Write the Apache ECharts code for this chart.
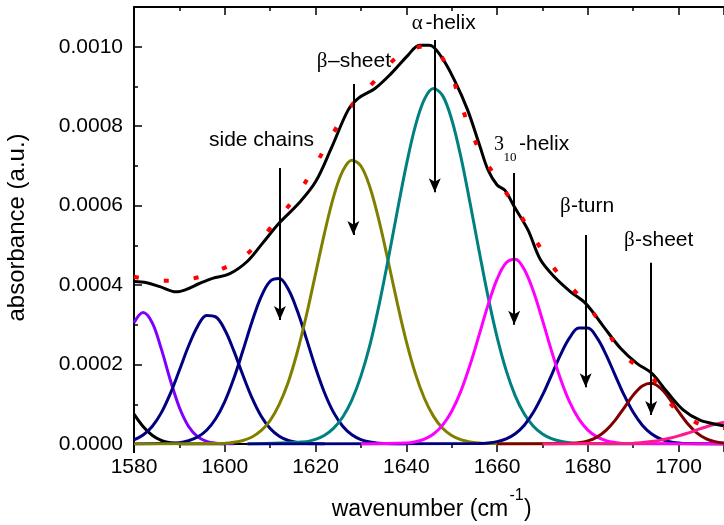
<!DOCTYPE html>
<html><head><meta charset="utf-8">
<script src="https://cdn.jsdelivr.net/npm/echarts@6/dist/echarts.min.js"></script>
<style>html,body{margin:0;padding:0;background:#fff}#c{width:724px;height:525px}</style>
</head><body><div id="c"></div>
<script>
// all absorbance values below are in units of 1e-6
const U = 1e-6;
const xTicks = [1580, 1600, 1620, 1640, 1660, 1680, 1700];
const yTicks = ['0.0000','0.0002','0.0004','0.0006','0.0008','0.0010'];

const leftX = [1580,1582,1584,1586,1588,1590,1592,1600];
const leftY = [75,44,22,9,3,0.5,0,0];

const purpleX = [1580,1582,1584,1586,1588,1590,1592,1594,1596,1598,1600,1602];
const purpleY = [305.5,331,305.5,240,161,92,44.8,18.6,6.6,2.0,0.5,0];

const navy1X = [1580,1582,1584,1586,1588,1590,1592,1594,1596,1598,1600,1602,1604,1606,1608,1610,1612,1614,1616,1618,1620,1622];
const navy1Y = [10.4,22.5,44.1,78.4,126.8,185.5,246,296,323.5,320,287.7,234.4,173,116,70.5,38.8,19.4,8.8,3.6,1.3,0.4,0];

const sideX = [1580,1590,1592,1594,1596,1598,1600,1602,1604,1606,1608,1610,1612,1614,1616,1618,1620,1622,1624,1626,1628,1630,1632,1634,1636,1640];
const sideY = [0,3.4,8.1,17.5,34.7,63.4,106.7,165.3,235.2,307.8,370.3,409.5,416.4,389.4,334.7,264.6,192.1,128.5,78.9,44.6,23.1,11.0,4.8,2.0,0.7,0];

const oliveX = [1580,1600,1602,1604,1606,1608,1610,1612,1614,1616,1618,1620,1622,1624,1626,1628,1630,1632,1634,1636,1638,1640,1642,1644,1646,1648,1650,1652,1654,1656,1658,1710];
const oliveY = [0,1.9,4.2,8.9,17.7,33.4,59.2,99.6,156.2,232.2,324.8,428.3,532.1,623.2,687.4,714.5,699.8,645.8,561.6,460.5,355.2,258.3,177.2,114.5,69.6,39.8,21.5,10.9,5.3,2.4,1.0,0];

const tealX = [1605,1618,1620,1622,1624,1626,1628,1630,1632,1634,1636,1638,1640,1642,1644,1646,1648,1650,1652,1654,1656,1658,1660,1662,1664,1666,1668,1670,1672,1674,1676,1678,1690];
const tealY = [0,5.9,11.7,22.1,39.9,68.0,110.6,170.8,250.1,350.1,464.2,585.3,702.1,800.8,868.1,894.7,876.9,816.9,723.9,609.4,488.2,371.6,268.9,185.2,121.1,75.4,44.6,25.1,13.4,6.8,3.3,1.5,0];

const turnX = [1605,1656,1658,1660,1662,1664,1666,1668,1670,1672,1674,1676,1678,1680,1682,1684,1686,1688,1690,1692,1694,1696,1698,1700,1702,1710];
const turnY = [0,1.0,2.5,6.0,12.9,25.9,47.4,79.7,122.8,173.6,225.2,267.6,291.8,291.8,267.6,225.2,173.6,122.8,79.7,47.4,25.9,12.9,6.0,2.5,1.0,0];

const helix310X = [1630,1640,1642,1644,1646,1648,1650,1652,1654,1656,1658,1660,1662,1664,1666,1668,1670,1672,1674,1676,1678,1680,1682,1684,1686,1688,1710];
const helix310Y = [0,2.4,5.7,12.4,25.3,47.4,82.3,132.4,197.5,272.7,349.5,414.8,456.1,464.9,439.1,384.4,311.8,234.3,163.2,105.4,63.1,35.0,17.9,8.5,3.8,1.5,0];

const maroonX = [1660,1676,1678,1680,1682,1684,1686,1688,1690,1692,1694,1696,1698,1700,1702,1704,1706,1708,1710];
const maroonY = [0,1.0,3.0,7.7,17.2,34.2,59.5,91.1,123.0,146.1,152.8,140.6,114.0,81.2,51.0,28.2,13.7,5.9,2.2];

const pinkX = [1670,1690,1692,1694,1696,1698,1700,1702,1704,1706,1708,1710];
const pinkY = [0,2.2,3.8,6.3,9.7,14.5,20.4,27.5,35.2,42.9,49.7,54.9];

const fitX = [1580,1582.8,1585.7,1589.3,1591.5,1594.4,1597.3,1601.0,1605.0,1608.3,1611.9,1616.3,1620.0,1623.6,1627.2,1629.4,1633.1,1636.7,1640.4,1642.9,1645.1,1647.7,1650.6,1653.5,1656.2,1658.0,1660.0,1661.7,1663.8,1666.8,1669.5,1672.6,1676.2,1679.5,1683.5,1687.2,1690.8,1694.1,1697.4,1701.0,1704.7,1709.0,1710];
const fitY = [409,406,396,383,389,404,417,428,460,505,555,606,660,748,841,870,895,933,979,1004,1004,975,916,841,750,690,652,639,597,539,465,421,383,354,295,241,203,178,132,86,60,48,46];

const dataX = [1580,1586.0,1592.2,1598.4,1604.6,1610.8,1615.9,1619.8,1623.2,1627.2,1632.9,1638.8,1645.0,1649.5,1651.7,1653.9,1656.8,1660.9,1664.9,1668.7,1673.0,1678.4,1683.4,1687.9,1694.3,1699.0,1705.0,1710];
const dataY = [421,411,415,436,475,554,627,698,769,841,912,981,1002,939,868,796,725,652,581,509,436,369,297,224,165,92,48,40];

// annotation arrows (wavenumber, start and tip absorbance in 1e-6)
const arrowX = [1612.15, 1628.34, 1646.27, 1663.77, 1679.52, 1693.96];
const arrowFrom = [695, 906, 1017, 682, 526, 456];
const arrowTo = [312, 526, 634, 300, 143, 73];

const SANS = '"Liberation Sans", Arial, sans-serif';
const SERIF = '"Liberation Serif", "Times New Roman", serif';

function pairs(xs, ys) { return xs.map((x, i) => [x, ys[i] * U]); }
function comp(xs, ys, color, w) {
  return { type: 'line', data: pairs(xs, ys), showSymbol: false, smooth: 0.35,
    lineStyle: { color: color, width: w || 3 }, silent: true };
}
function txt(x, y, text, size, family, rot) {
  return { type: 'text', x: x, y: y, rotation: rot || 0, silent: true,
    style: { text: text, fontSize: size, fontFamily: family, fill: '#000',
      textAlign: rot ? 'center' : 'left', align: rot ? 'center' : 'left',
      textVerticalAlign: 'middle', verticalAlign: 'middle' } };
}

const chart = echarts.init(document.getElementById('c'), null, { renderer: 'canvas' });
const axisCommon = {
  axisLine: { show: true, onZero: false, lineStyle: { color: '#000', width: 2 } },
  splitLine: { show: false },
};
const option = {
  animation: false,
  backgroundColor: '#fff',
  grid: { left: 134, right: -4, top: 7, bottom: 81, containLabel: false },
  xAxis: [
    Object.assign({}, axisCommon, {
      type: 'value', min: 1580, max: 1710, interval: 20, position: 'bottom',
      axisTick: { show: true, inside: false, length: 8, lineStyle: { color: '#000', width: 1.5 } },
      minorTick: { show: true, splitNumber: 2, length: 4, lineStyle: { color: '#000', width: 1.5 } },
      axisLabel: { show: true, showMaxLabel: false, fontSize: 21, fontFamily: SANS, color: '#000', margin: 13,
        formatter: v => (xTicks.indexOf(v) >= 0 ? String(v) : '') }
    }),
    Object.assign({}, axisCommon, {
      type: 'value', min: 1580, max: 1710, interval: 20, position: 'top',
      axisTick: { show: true, inside: true, length: 8, lineStyle: { color: '#000', width: 1.5 } },
      minorTick: { show: true, splitNumber: 2, length: 4, lineStyle: { color: '#000', width: 1.5 } },
      axisLabel: { show: false }
    })
  ],
  yAxis: [
    Object.assign({}, axisCommon, {
      type: 'value', min: 0, max: 1100 * U, interval: 200 * U, position: 'left',
      axisTick: { show: true, inside: true, length: 8, lineStyle: { color: '#000', width: 1.5 } },
      minorTick: { show: true, splitNumber: 2, length: 4, lineStyle: { color: '#000', width: 1.5 } },
      axisLabel: { show: true, showMaxLabel: false, fontSize: 21, fontFamily: SANS, color: '#000', margin: 11,
        formatter: (v) => { const s = v.toFixed(4); return yTicks.indexOf(s) >= 0 ? s : ''; } }
    })
  ],
  series: [
    comp(leftX, leftY, '#000000'),
    comp(purpleX, purpleY, '#8000ff'),
    comp(navy1X, navy1Y, '#000080'),
    comp(sideX, sideY, '#000080'),
    comp(oliveX, oliveY, '#808000'),
    comp(tealX, tealY, '#008080'),
    comp(turnX, turnY, '#000080'),
    comp(helix310X, helix310Y, '#ff00ff'),
    comp(maroonX, maroonY, '#800000'),
    comp(pinkX, pinkY, '#ff1a8c'),
    Object.assign(comp(fitX, fitY, '#000000', 3), {
      markLine: {
        silent: true, symbol: ['none', 'arrow'], symbolSize: [9, 14], animation: false,
        lineStyle: { color: '#000', width: 2, type: 'solid' }, label: { show: false },
        emphasis: { disabled: true },
        data: arrowX.map((x, i) => [{ coord: [x, arrowFrom[i] * U] }, { coord: [x, arrowTo[i] * U] }])
      }
    }),
    { type: 'line', data: pairs(dataX, dataY), showSymbol: false, smooth: 0.35, silent: true,
      lineStyle: { color: '#ff0000', width: 4, type: [5, 25], cap: 'butt' } }
  ],
  graphic: [
    { type: 'line', silent: true, shape: { x1: 134, y1: 444, x2: 134, y2: 453 }, style: { stroke: '#000', lineWidth: 2 } },
    txt(17.5, 227.5, 'absorbance (a.u.)', 24, SANS, Math.PI / 2),
    txt(331.7, 509.8, 'wavenumber (cm', 23, SANS),
    txt(509.5, 496, '-1', 16, SANS),
    txt(524, 509.8, ')', 23, SANS),
    txt(209, 140.6, 'side chains', 21, SANS),
    txt(316.7, 61, 'β', 21, SERIF),
    txt(328, 61, '–sheet', 21, SANS),
    txt(411.7, 23.5, 'α', 21, SERIF),
    txt(425.5, 23.5, '-helix', 21, SANS),
    txt(494, 144.5, '3', 20, SERIF),
    txt(503.5, 157.5, '10', 13, SERIF),
    txt(519, 144.5, '-helix', 21, SANS),
    txt(560, 206, 'β', 21, SERIF),
    txt(571, 206, '-turn', 21, SANS),
    txt(624, 240.7, 'β', 21, SERIF),
    txt(635, 240.7, '-sheet', 21, SANS)
  ]
};
chart.setOption(option);
</script>
</body></html>
